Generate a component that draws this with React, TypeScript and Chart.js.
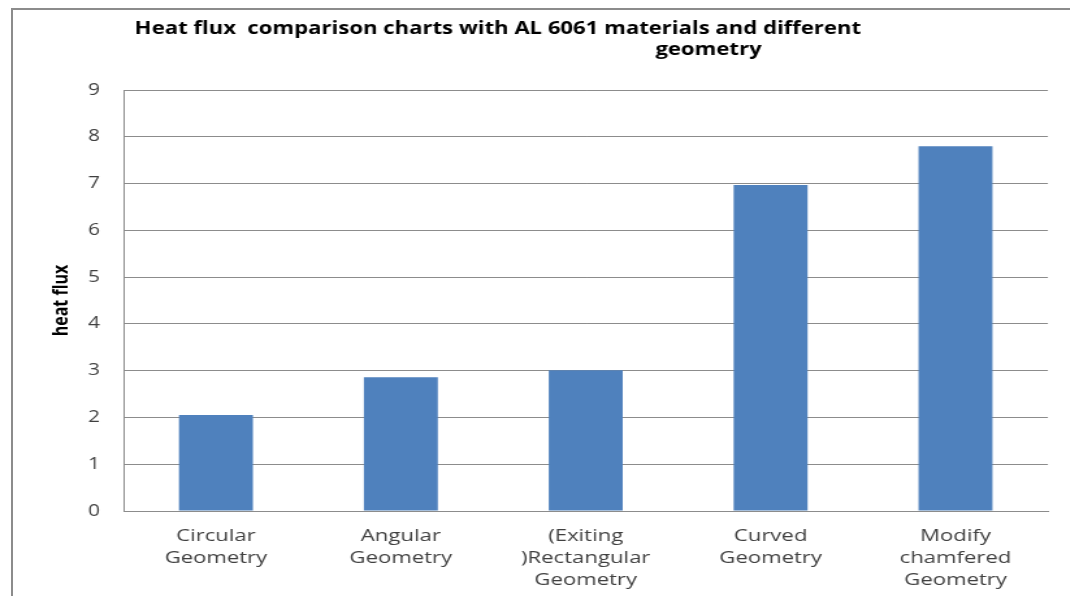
import React, { useEffect, useRef } from "react";
import { Chart, registerables } from "chart.js";

Chart.register(...registerables);

const categories: string[][] = [
  ["Circular", "Geometry"],
  ["Angular", "Geometry"],
  ["(Exiting", ")Rectangular", "Geometry"],
  ["Curved", "Geometry"],
  ["Modify", "chamfered", "Geometry"],
];
const heatFlux: number[] = [2.05, 2.86, 3.01, 6.97, 7.8];
const yMin = 0;
const yMax = 9;
const yStep = 1;
const titleLines: string[] = [
  "Heat flux  comparison charts with AL 6061 materials and different",
  "geometry",
];
const yAxisTitle = "heat flux";

const SX = 1.3; // horizontal stretch of the reference image
const FONT = "'Open Sans', 'DejaVu Sans', sans-serif";

const splitTitle = {
  id: "splitTitle",
  afterDraw(chart: any, _args: any, opts: any) {
    const ctx = chart.ctx;
    ctx.save();
    ctx.font = `bold ${opts.size}px ${FONT}`;
    ctx.fillStyle = "#000000";
    ctx.textAlign = "center";
    ctx.textBaseline = "middle";
    opts.lines.forEach((line: string, i: number) => {
      ctx.fillText(line, opts.xs[i], opts.ys[i]);
    });
    ctx.restore();
  },
};

export default function App() {
  const ref = useRef<HTMLCanvasElement | null>(null);

  useEffect(() => {
    document.documentElement.style.overflow = "hidden";
    const canvas = ref.current;
    if (!canvas) return;
    const chart = new Chart(canvas, {
      type: "bar",
      data: {
        labels: categories,
        datasets: [
          {
            label: "heat flux",
            data: heatFlux,
            backgroundColor: "#4F81BD",
            borderWidth: 0,
            barPercentage: 0.4,
            categoryPercentage: 1,
          },
        ],
      },
      plugins: [splitTitle],
      options: {
        animation: false,
        responsive: true,
        maintainAspectRatio: false,
        layout: { padding: { top: 80, right: 17, left: 0, bottom: 0 } },
        plugins: {
          legend: { display: false },
          title: { display: false },
          tooltip: { enabled: false },
          splitTitle: {
            lines: titleLines,
            xs: [373, 535],
            ys: [19, 40],
            size: 17,
          },
        } as any,
        scales: {
          x: {
            afterFit: (s: any) => {
              s.height = 85;
            },
            grid: { display: false, drawTicks: false },
            border: { display: true, color: "#8c8c8c", width: 1 },
            ticks: {
              color: "#404040",
              padding: 14,
              maxRotation: 0,
              autoSkip: false,
              font: { family: FONT, size: 17, lineHeight: 1.3 },
            },
          },
          y: {
            min: yMin,
            max: yMax,
            afterFit: (s: any) => {
              s.width = 85;
            },
            grid: { color: "#8c8c8c", drawTicks: false, lineWidth: 1 },
            border: { display: true, color: "#8c8c8c", width: 1 },
            ticks: {
              stepSize: yStep,
              color: "#404040",
              padding: 18,
              font: { family: FONT, size: 16 },
            },
            title: {
              display: true,
              text: yAxisTitle,
              color: "#000000",
              padding: { top: 28, bottom: 0 },
              font: { family: FONT, size: 16, weight: "bold" },
            },
          },
        },
      },
    });
    return () => chart.destroy();
  }, []);

  return (
    <div
      style={{
        position: "absolute",
        left: 11,
        top: 8,
        width: 1059,
        height: 588,
        boxSizing: "border-box",
        borderLeft: "2px solid #8c8c8c",
        borderTop: "2px solid #8c8c8c",
        overflow: "hidden",
        background: "#ffffff",
      }}
    >
      <div
        style={{
          width: 1057 / SX,
          height: 586,
          transform: `scaleX(${SX})`,
          transformOrigin: "0 0",
        }}
      >
        <canvas ref={ref} />
      </div>
    </div>
  );
}
